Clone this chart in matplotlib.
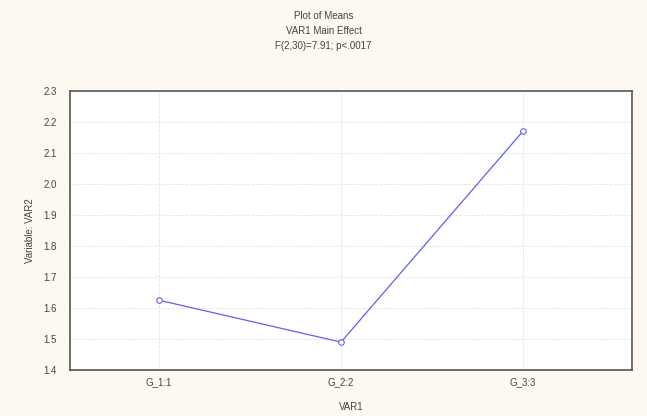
import numpy as np
import matplotlib.pyplot as plt

groups = ["G_1:1", "G_2:2", "G_3:3"]
means = [1.625, 1.49, 2.17]
yticks = [1.4, 1.5, 1.6, 1.7, 1.8, 1.9, 2.0, 2.1, 2.2, 2.3]

plt.rcParams['font.family'] = ['Liberation Sans', 'DejaVu Sans']

fig = plt.figure(figsize=(6.47, 4.16), dpi=100)
fig.patch.set_facecolor('#fdf9f0')
# axes box in pixels: left 70, right 632, top 91, bottom 370
ax = fig.add_axes([70 / 647, 46 / 416, 562 / 647, 279 / 416])
ax.set_facecolor('white')

x = np.arange(len(groups))
ax.plot(x, means, color='#6060f0', lw=0.9, marker='o', ms=4,
        markerfacecolor='white', markeredgecolor='#6060f0', markeredgewidth=0.8)

ax.set_xlim(-0.49, 2.6)
ax.set_ylim(1.4, 2.3)
ax.set_xticks(x)
ax.set_xticklabels(groups)
ax.set_yticks(yticks)
ax.set_yticklabels(["%.1f" % v for v in yticks])
ax.tick_params(labelsize=7, colors='#444444', length=0)
ax.tick_params(axis='x', pad=5)
ax.tick_params(axis='y', pad=9.44)
ax.grid(True, color='#e4e4e4', lw=0.6, ls='--')
for s in ax.spines.values():
    s.set_color('#555555')
    s.set_linewidth(1.2)

ax.set_xlabel("VAR1", fontsize=7, color='#444444', labelpad=11)
ax.set_ylabel("Variable: VAR2", fontsize=7, color='#444444', labelpad=6)

fig.text(0.5, 0.962, "Plot of Means", ha='center', va='center', fontsize=7, color='#444444')
fig.text(0.5, 0.926, "VAR1 Main Effect", ha='center', va='center', fontsize=7, color='#444444')
fig.text(0.5, 0.890, "F(2,30)=7.91; p<.0017", ha='center', va='center', fontsize=7, color='#444444')

fig.savefig("out.png", dpi=100, facecolor=fig.get_facecolor())
